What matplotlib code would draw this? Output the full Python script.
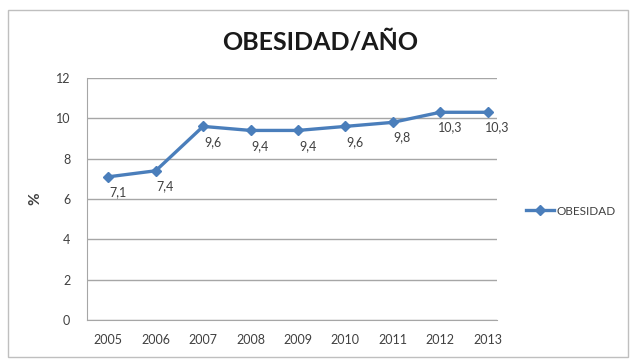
import matplotlib.pyplot as plt
from matplotlib.patches import Rectangle

plt.rcParams['font.family'] = ['Lato', 'DejaVu Sans']

# Datos
years = [2005, 2006, 2007, 2008, 2009, 2010, 2011, 2012, 2013]
obesidad = [7.1, 7.4, 9.6, 9.4, 9.4, 9.6, 9.8, 10.3, 10.3]
y_ticks = [0, 2, 4, 6, 8, 10, 12]

fig = plt.figure(figsize=(6.35, 3.6), dpi=100)
ax = fig.add_axes([87 / 635, 1 - 320 / 360, (497 - 87) / 635, (320 - 78) / 360])

# Marco exterior del gráfico
fig.patches.append(Rectangle((8 / 635, 3 / 360), 620 / 635, 347 / 360, transform=fig.transFigure,
                             fill=False, edgecolor='#bfbfbf', linewidth=1))

line_color = '#4a7ebb'
ax.plot(years, obesidad, color=line_color, linewidth=2.4, marker='D', markersize=5.5,
        label='OBESIDAD')

for x, y in zip(years, obesidad):
    ax.annotate(f'{y:.1f}'.replace('.', ','), (x, y), xytext=(7, -11), textcoords='offset points',
                ha='center', va='center', fontsize=9, color='#404040')

ax.set_xlim(2004.55, 2013.2)
ax.set_ylim(0, 12)
ax.set_yticks(y_ticks)
ax.set_xticks(years)
ax.tick_params(length=0, labelsize=9, colors='#404040')
ax.tick_params(axis='x', pad=10)
ax.tick_params(axis='y', pad=12)
ax.grid(axis='y', color='#a6a6a6', linewidth=1)
ax.set_axisbelow(True)
for side in ['top', 'right']:
    ax.spines[side].set_visible(False)
ax.spines['left'].set_color('#a6a6a6')
ax.spines['bottom'].set_color('#a6a6a6')

ax.set_ylabel('%', fontsize=11, fontweight='bold', color='#404040', labelpad=10)

fig.text(320 / 635, 1 - 42 / 360, 'OBESIDAD/AÑO', ha='center', va='center',
         fontsize=18, fontweight='bold', color='#1a1a1a')

ax.legend(loc='center left', bbox_to_anchor=(1.045, 0.45), frameon=False, fontsize=8.5,
          handlelength=2.4, handletextpad=0.15, labelcolor='#404040')

fig.savefig('out.png', dpi=100)
